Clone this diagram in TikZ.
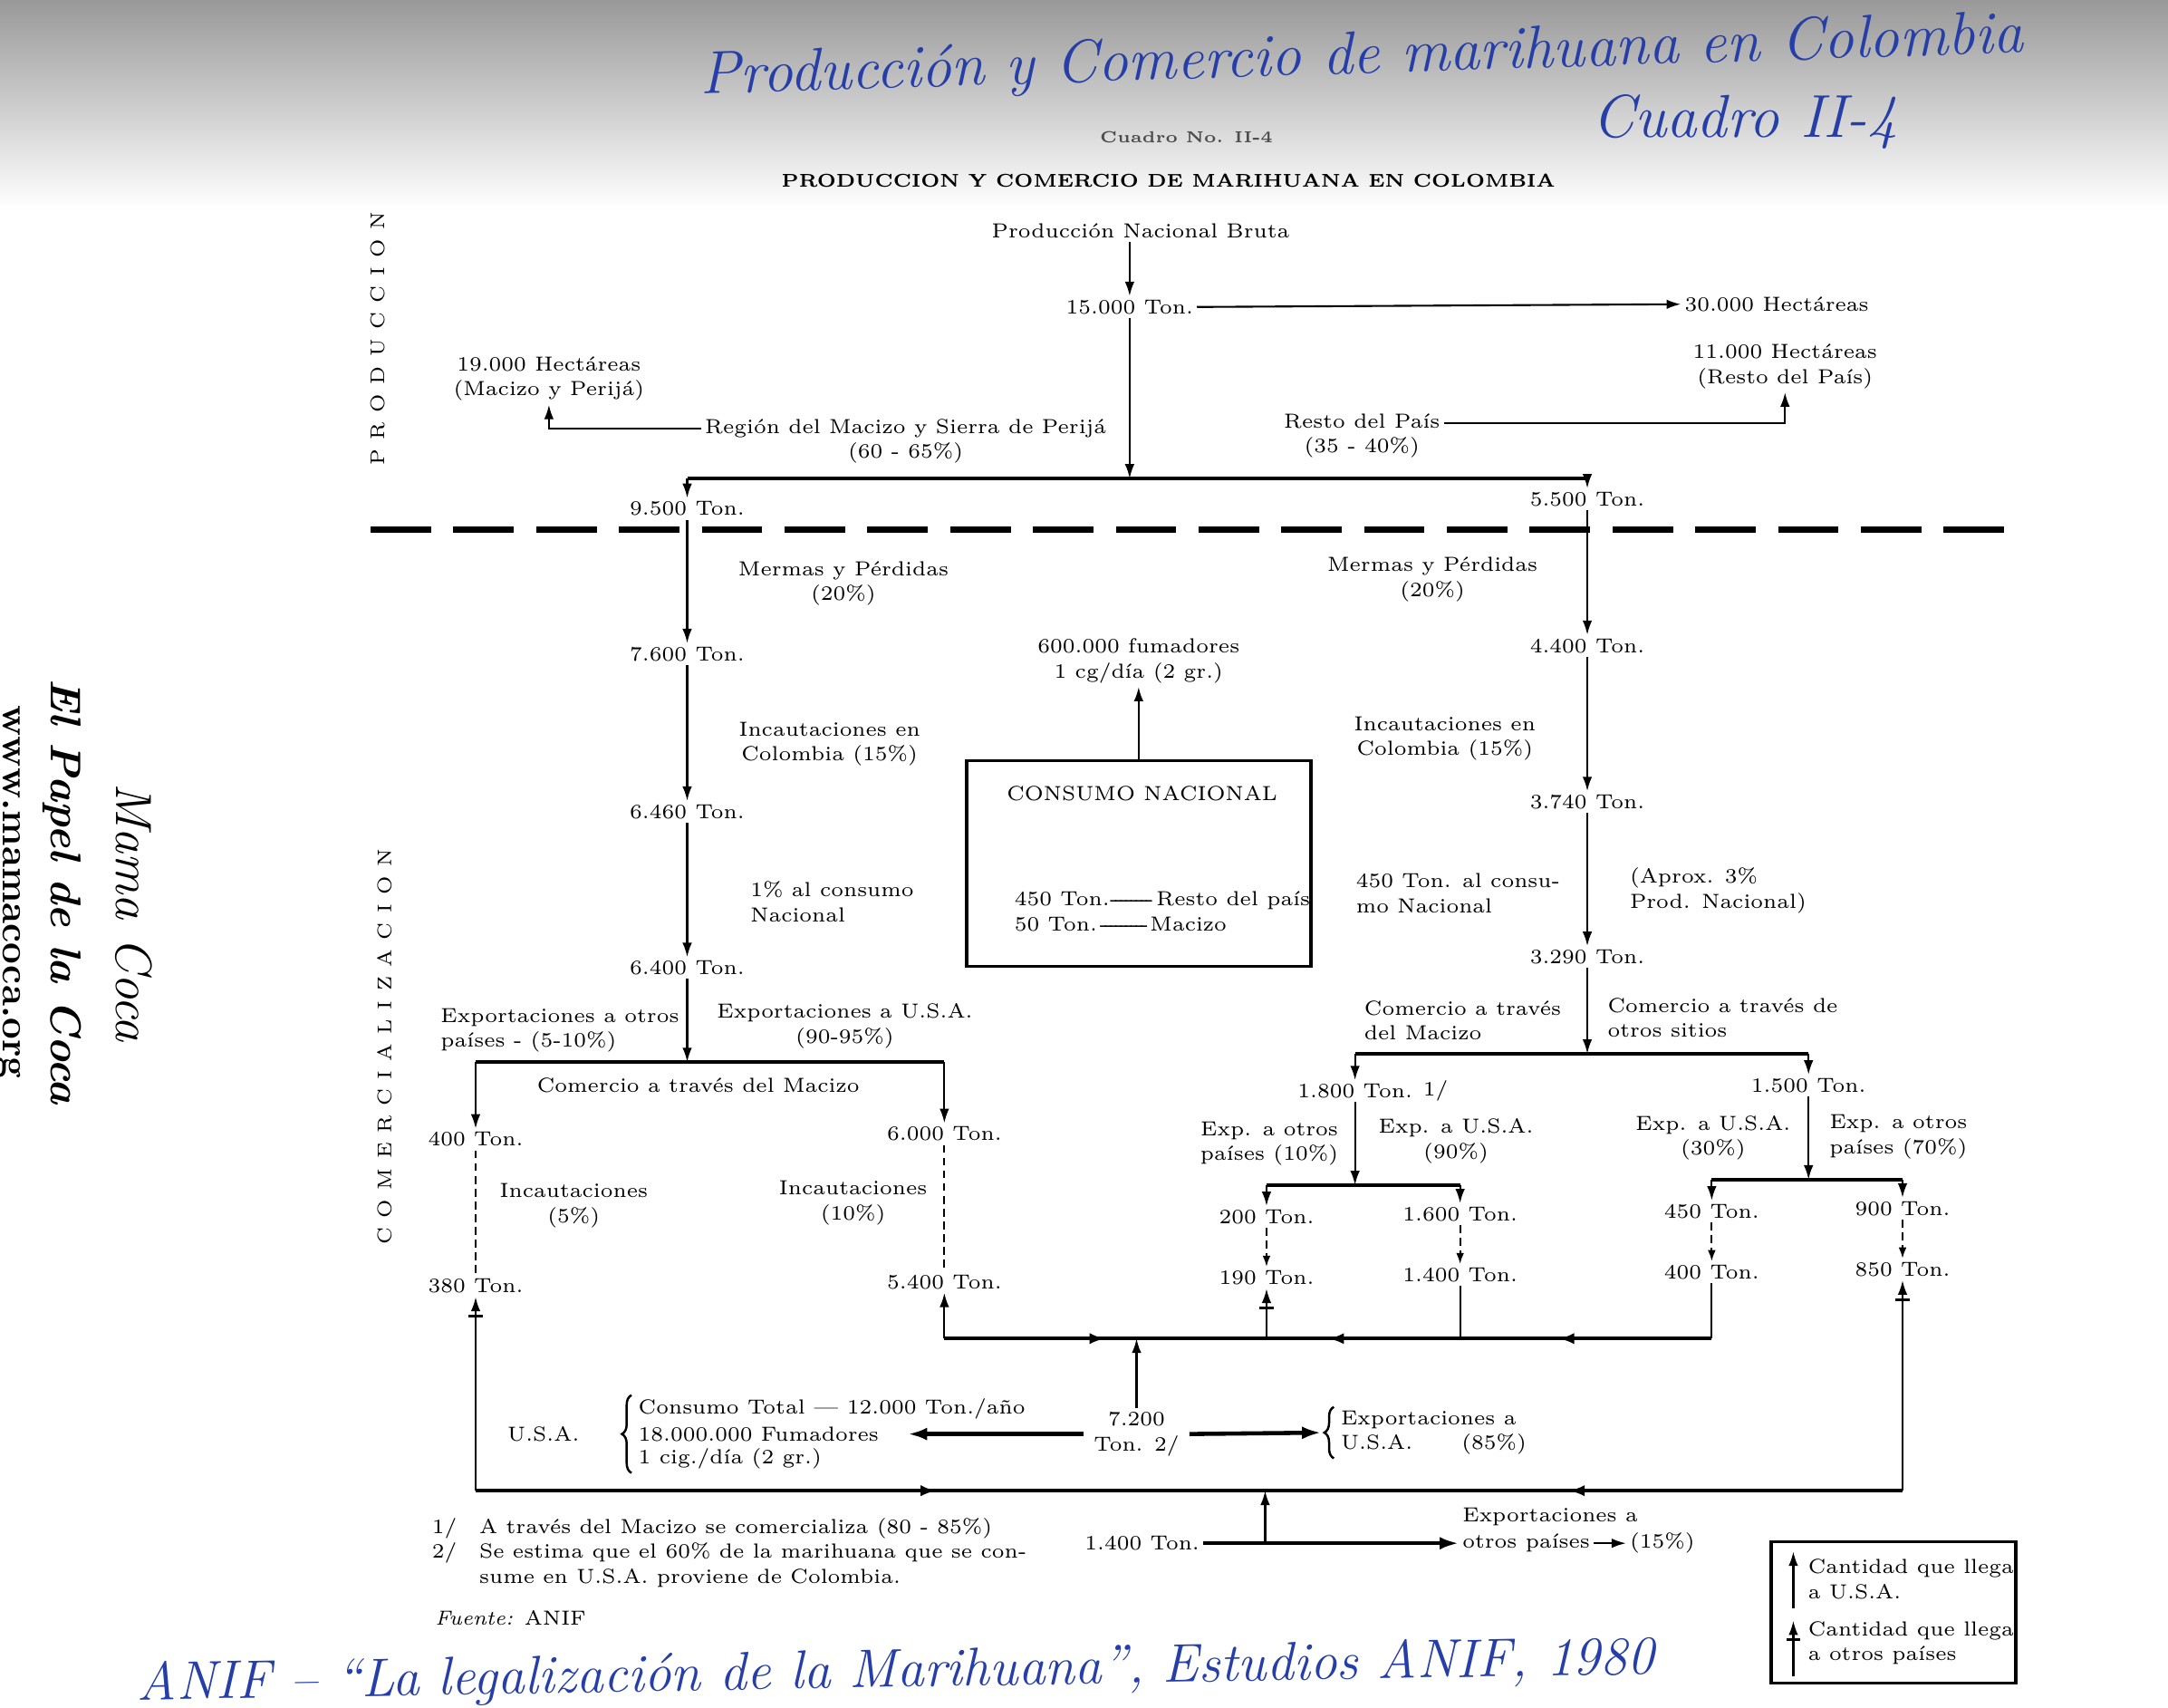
\documentclass[tikz,border=0pt]{standalone}
\usepackage{fontspec}
\usetikzlibrary{arrows.meta,positioning,decorations.markings,decorations.pathreplacing}
\definecolor{tinta}{RGB}{38,62,168}
\newcommand{\raya}[1]{\leaders\hbox to .25em{\hss-\hss}\hskip #1\relax}
\newcommand{\ee}{\kern3pt}
\tikzset{
  txt/.style={align=center,inner sep=1pt},
  izq/.style={align=left,inner sep=1pt,anchor=west},
  flecha/.style={-{Latex[length=4.5pt,width=3pt]},line width=0.6pt},
  gruesa/.style={-{Latex[length=6pt,width=4pt]},line width=1.3pt},
  rama/.style={line width=1.2pt},
  trazo/.style={line width=0.6pt,dash pattern=on 2.5pt off 1.5pt},
  llave/.style={line width=0.7pt,decorate,decoration={brace,amplitude=3pt}},
  otros/.style={flecha,postaction={decorate},
    decoration={markings,mark=at position -6pt with {\draw[-,line width=0.9pt] (0,-2.2pt) -- (0,2.2pt);}}},
  vertical/.style={rotate=90,font=\fontsize{6.2}{7}\selectfont},
  mano/.style={tinta,inner sep=0pt}
}
\begin{document}
\begin{tikzpicture}[x=0.1526mm,y=-0.1526mm,font=\fontsize{6.4}{7.8}\selectfont]
\useasboundingbox (0,0) rectangle (1568,1234.5);
\shade[top color=black!40,bottom color=white] (0,0) rectangle (1568,150);

% encabezado
\node[mano,font=\fontsize{19}{24}\selectfont\itshape,rotate=1.8] (manotit) at (985,42) {Producción y Comercio de marihuana en Colombia};
\node[mano,font=\fontsize{19}{24}\selectfont\itshape] (manocua) at (1262,88) {Cuadro II-4};
\node[font=\fontsize{5}{6}\selectfont\bfseries,text=black!70] (cuadro) at (858,99) {Cuadro No. II-4};
\node[font=\fontsize{5.8}{7}\selectfont\bfseries] (titulo) at (845,131) {PRODUCCION Y COMERCIO DE MARIHUANA EN COLOMBIA};

\node[vertical] (prod) at (273,245) {P\ee R\ee O\ee D\ee U\ee C\ee C\ee I\ee O\ee N};
\node[vertical] (comer) at (278,757) {C\ee O\ee M\ee E\ee R\ee C\ee I\ee A\ee L\ee I\ee Z\ee A\ee C\ee I\ee O\ee N};
\draw[line width=1.8pt,dash pattern=on 19pt off 7pt] (268,383) -- (1450,383);

% produccion
\node[txt] (pnb) at (825,167) {Producción Nacional Bruta};
\node[txt] (t15000) at (817,222) {15.000 Ton.};
\node[txt] (ha30000) at (1285,220) {30.000 Hectáreas};
\node[txt] (ha19000) at (397,274) {19.000 Hectáreas\\(Macizo y Perijá)};
\node[txt] (region) at (655,319) {Región del Macizo y Sierra de Perijá\\(60 - 65\%)};
\node[txt] (resto) at (985,315) {Resto del País\\(35 - 40\%)};
\node[txt] (ha11000) at (1291,265) {11.000 Hectáreas\\(Resto del País)};
\node[txt] (t9500) at (497,368) {9.500 Ton.};
\node[txt] (t5500) at (1148,361) {5.500 Ton.};
\coordinate (bl) at (497,346);
\coordinate (br) at (1148,346);
\draw[flecha] (pnb.south -| t15000) -- (t15000.north);
\draw[flecha] (t15000.east) -- (ha30000.west);
\draw[flecha] (t15000.south) -- (t15000.south |- bl);
\draw[rama] (bl) -- (br);
\draw[flecha] (bl) -- (t9500.north);
\draw[flecha] (br) -- (t5500.north);
\draw[flecha] ([yshift=3.9pt]region.west) -| (ha19000.south);
\draw[flecha] ([yshift=3.9pt]resto.east) -| (ha11000.south);

% comercializacion, macizo
\node[txt] (t7600) at (497,473) {7.600 Ton.};
\node[txt] (t6460) at (497,587) {6.460 Ton.};
\node[txt] (t6400) at (497,700) {6.400 Ton.};
\node[txt] (mermasI) at (610,422) {Mermas y Pérdidas\\(20\%)};
\node[txt] (incI) at (600,538) {Incautaciones en\\Colombia (15\%)};
\node[izq] (consI) at (540,652) {1\% al consumo\\Nacional};
\draw[flecha] (t9500.south) -- (t7600.north);
\draw[flecha] (t7600.south) -- (t6460.north);
\draw[flecha] (t6460.south) -- (t6400.north);

\coordinate (cl) at (344,768);
\coordinate (cr) at (683,768);
\draw[flecha] (t6400.south) -- (t6400.south |- cl);
\draw[rama] (cl) -- (cr);
\node[izq] (expOI) at (316,745) {Exportaciones a otros\\países - (5-10\%)};
\node[txt] (expUI) at (611,742) {Exportaciones a U.S.A.\\(90-95\%)};
\node[txt] (comMac) at (505,785) {Comercio a través del Macizo};
\node[txt] (t400) at (344,824) {400 Ton.};
\node[txt] (t6000) at (683,820) {6.000 Ton.};
\draw[flecha] (cl) -- (t400.north);
\draw[flecha] (cr) -- (t6000.north);
\node[txt] (incC) at (415,872) {Incautaciones\\(5\%)};
\node[txt] (incD) at (617,870) {Incautaciones\\(10\%)};
\node[txt] (t380) at (344,930) {380 Ton.};
\node[txt] (t5400) at (683,927) {5.400 Ton.};
\draw[trazo] (t400.south) -- (t380.north);
\draw[trazo] (t6000.south) -- (t5400.north);

% consumo nacional
\node[draw,line width=1pt,minimum width=38mm,minimum height=22.7mm] (caja) at (823.5,624.5) {};
\node[txt] (consumo) at (826,574) {CONSUMO NACIONAL};
\node[izq] (reparto) at (731,659) {450 Ton.\raya{2.3em}Resto del país\\50 Ton.\raya{2.6em}Macizo};
\node[txt] (fumadores) at (823.5,478) {600.000 fumadores\\1 cg/día (2 gr.)};
\draw[flecha] (caja.north) -- (fumadores.south);

% comercializacion, resto del pais
\node[txt] (t4400) at (1148,467) {4.400 Ton.};
\node[txt] (t3740) at (1148,580) {3.740 Ton.};
\node[txt] (t3290) at (1148,692) {3.290 Ton.};
\node[txt] (mermasD) at (1036,419) {Mermas y Pérdidas\\(20\%)};
\node[txt] (incE) at (1045,534) {Incautaciones en\\Colombia (15\%)};
\node[izq] (consD) at (978,646) {450 Ton. al consu-\\mo Nacional};
\node[izq] (aprox) at (1176,644) {(Aprox. 3\%\\Prod. Nacional)};
\draw[flecha] (t5500.south) -- (t4400.north);
\draw[flecha] (t4400.south) -- (t3740.north);
\draw[flecha] (t3740.south) -- (t3290.north);

\coordinate (dl) at (980,762);
\coordinate (dr) at (1308,762);
\draw[flecha] (t3290.south) -- (t3290.south |- dl);
\draw[rama] (dl) -- (dr);
\node[izq] (comMacD) at (984,738) {Comercio a través\\del Macizo};
\node[izq] (comOtr) at (1160,736) {Comercio a través de\\otros sitios};
\node[txt] (t1800) at (980,789) {1.800 Ton.};
\node[right=1pt of t1800,inner sep=1pt] (nota1) {1/};
\node[txt] (t1500) at (1308,785) {1.500 Ton.};
\draw[flecha] (dl) -- (t1800.north);
\draw[flecha] (dr) -- (t1500.north);

\coordinate (el) at (916,857);
\coordinate (er) at (1056,857);
\coordinate (fl) at (1238,853);
\coordinate (fr) at (1376,853);
\draw[flecha] (t1800.south) -- (t1800.south |- el);
\draw[rama] (el) -- (er);
\draw[flecha] (t1500.south) -- (t1500.south |- fl);
\draw[rama] (fl) -- (fr);
\node[txt] (expO10) at (918,827) {Exp. a otros\\países (10\%)};
\node[txt] (expU90) at (1053,825) {Exp. a U.S.A.\\(90\%)};
\node[txt] (expU30) at (1239,823) {Exp. a U.S.A.\\(30\%)};
\node[txt] (expO70) at (1373,822) {Exp. a otros\\países (70\%)};
\node[txt] (t200) at (916,880) {200 Ton.};
\node[txt] (t1600) at (1056,878) {1.600 Ton.};
\node[txt] (t450) at (1238,876) {450 Ton.};
\node[txt] (t900) at (1376,874) {900 Ton.};
\draw[flecha] (el) -- (t200.north);
\draw[flecha] (er) -- (t1600.north);
\draw[flecha] (fl) -- (t450.north);
\draw[flecha] (fr) -- (t900.north);
\node[txt] (t190) at (916,924) {190 Ton.};
\node[txt] (t1400) at (1056,922) {1.400 Ton.};
\node[txt] (t400b) at (1238,920) {400 Ton.};
\node[txt] (t850) at (1376,918) {850 Ton.};
\draw[trazo,-{Latex[length=3.5pt,width=2.5pt]}] (t200.south) -- (t190.north);
\draw[trazo,-{Latex[length=3.5pt,width=2.5pt]}] (t1600.south) -- (t1400.north);
\draw[trazo,-{Latex[length=3.5pt,width=2.5pt]}] (t450.south) -- (t400b.north);
\draw[trazo,-{Latex[length=3.5pt,width=2.5pt]}] (t900.south) -- (t850.north);

% colectores
\coordinate (usaA) at (683,968);
\coordinate (usaB) at (1238,968);
\draw[rama,postaction={decorate},decoration={markings,
  mark=at position 0.21 with {\arrow{Latex[length=5pt,width=3.5pt]}},
  mark=at position 0.5 with {\arrowreversed{Latex[length=5pt,width=3.5pt]}},
  mark=at position 0.8 with {\arrowreversed{Latex[length=5pt,width=3.5pt]}}}] (usaA) -- (usaB);
\draw[flecha] (usaA) -- (t5400.south);
\draw[otros] (t190.south |- usaA) -- (t190.south);
\draw[line width=0.6pt] (t1400.south) -- (t1400.south |- usaA);
\draw[line width=0.6pt] (t400b.south) -- (usaB);

\coordinate (otA) at (344,1078);
\coordinate (otB) at (1376,1078);
\draw[rama,postaction={decorate},decoration={markings,
  mark=at position 0.323 with {\arrow{Latex[length=5pt,width=3.5pt]}},
  mark=at position 0.766 with {\arrowreversed{Latex[length=5pt,width=3.5pt]}}}] (otA) -- (otB);
\draw[otros] (otA) -- (t380.south);
\draw[otros] (otB) -- (t850.south);

% destino
\node[txt] (t7200) at (822,1037) {7.200\\Ton. 2/};
\draw[flecha] (t7200.north) -- (t7200.north |- usaA);
\node[txt] (usa) at (393,1037) {U.S.A.};
\node[izq] (cons12) at (459,1019) {Consumo Total --- 12.000 Ton./año};
\node[izq] (fum18) at (459,1037) {18.000.000 Fumadores};
\node[izq] (cig) at (459,1055) {1 cig./día (2 gr.)};
\draw[llave] ([xshift=-1pt]cig.south west) -- ([xshift=-1pt]cons12.north west);
\draw[gruesa] ([xshift=-2pt]t7200.west) -- ([xshift=8pt]fum18.east);
\node[izq] (exp85) at (967,1036) {Exportaciones a\\U.S.A.\hspace{2.4em}(85\%)};
\draw[llave] ([xshift=-1pt]exp85.south west) -- ([xshift=-1pt]exp85.north west);
\draw[gruesa] ([xshift=2pt]t7200.east) -- ([xshift=-5pt]exp85.west);

\node[txt] (t1400c) at (826,1116) {1.400 Ton.};
\node[izq] (expa) at (1055,1097) {Exportaciones a};
\node[izq] (otrosp) at (1055,1116) {otros países};
\node[izq] (p15) at (1176,1116) {(15\%)};
\draw[gruesa] (t1400c.east) -- (otrosp.west);
\draw[flecha] (otrosp.east) -- (p15.west);
\coordinate (sube) at (915,1116);
\draw[flecha] (sube) -- (sube |- otA);

% notas
\node[anchor=north west,inner sep=0pt] (notas) at (312,1096) {\begin{tabular}{@{}l@{\hspace{1.1em}}l@{}}
1/ & A través del Macizo se comercializa (80 - 85\%)\\
2/ & Se estima que el 60\% de la marihuana que se con-\\
   & sume en U.S.A. proviene de Colombia.\end{tabular}};
\node[izq] (fuente) at (312,1170) {\textit{Fuente:} ANIF};

% leyenda
\node[draw,line width=1pt,minimum width=27mm,minimum height=15.6mm] (leyenda) at (1369.5,1166) {};
\draw[flecha] (1297,1163) -- (1297,1122);
\draw[otros] (1297,1212) -- (1297,1172);
\node[izq] (ley1) at (1305,1142) {Cantidad que llega\\a U.S.A.};
\node[izq] (ley2) at (1305,1188) {Cantidad que llega\\a otros países};

% manuscrito y sello
\node[mano,font=\fontsize{17}{20}\selectfont\itshape,rotate=1] (manofuente) at (648,1210) {ANIF -- ``La legalización de la Marihuana'', Estudios ANIF, 1980};
\node[rotate=-90,font=\fontsize{16}{18}\selectfont\itshape] (mama) at (97,660) {Mama Coca};
\node[rotate=-90,font=\fontsize{13.5}{15}\selectfont\bfseries\itshape] (papel) at (45,645) {El Papel de la Coca};
\node[rotate=-90,font=\fontsize{12}{14}\selectfont\bfseries] (web) at (6,645) {www.mamacoca.org};
\end{tikzpicture}
\end{document}
